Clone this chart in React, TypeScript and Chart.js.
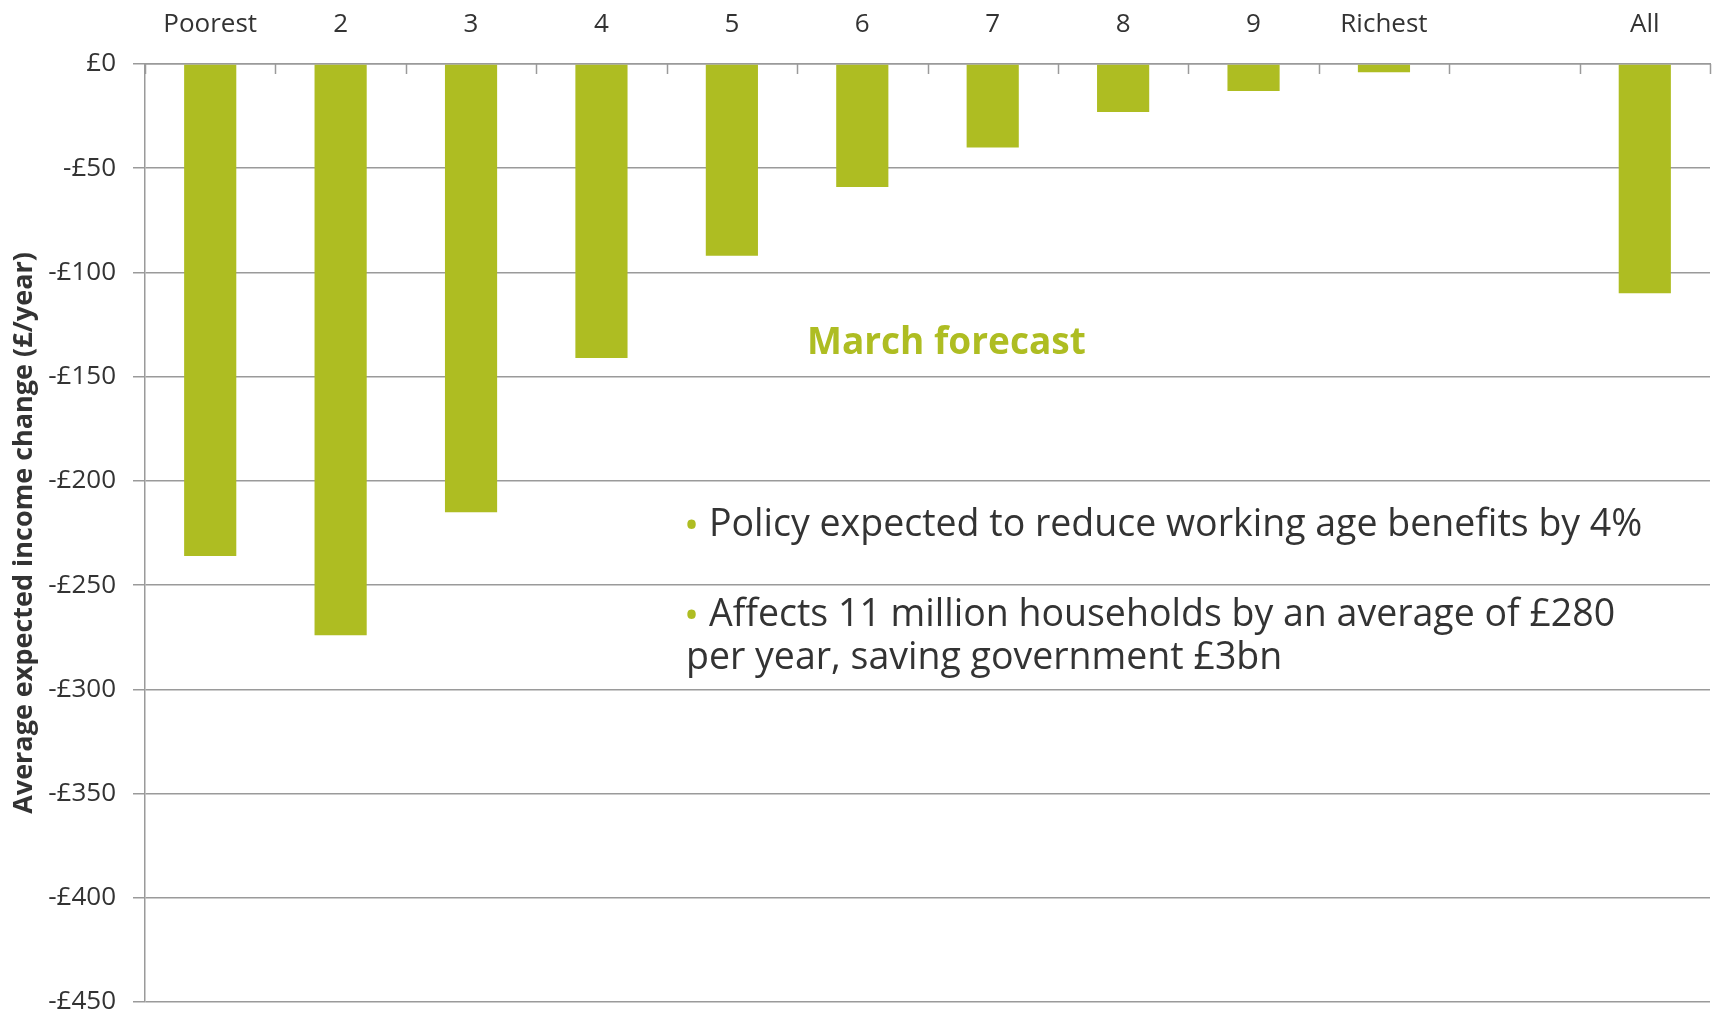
import React, { useEffect, useRef } from 'react';
import { Chart, registerables } from 'chart.js';

Chart.register(...registerables);

const categories = ['Poorest', '2', '3', '4', '5', '6', '7', '8', '9', 'Richest', '', 'All'];
const values: (number | null)[] = [-236, -274, -215, -141, -92, -59, -40, -23, -13, -4, null, -110];
const yMin = -450;
const yMax = 0;
const yStep = 50;
const yAxisTitle = 'Average expected income change (£/year)';
const headline = 'March forecast';
const bulletLines = [
  { bullet: true, text: 'Policy expected to reduce working age benefits by 4%' },
  { bullet: true, text: 'Affects 11 million households by an average of £280' },
  { bullet: false, text: 'per year, saving government £3bn' },
];

const GREEN = '#AEBD22';
const TEXT = '#333333';
const GRID = '#9a9a9a';
const FONT = "'Open Sans', 'Noto Sans', sans-serif";

export default function App() {
  const ref = useRef<HTMLCanvasElement>(null);

  useEffect(() => {
    document.body.style.margin = '0';
    document.body.style.overflow = 'hidden';

    const tickMarks = {
      id: 'tickMarks',
      afterDraw(chart: any) {
        const xs = chart.scales.x;
        const ctx = chart.ctx;
        const n = categories.length;
        const top = chart.chartArea.top;
        ctx.save();
        ctx.strokeStyle = GRID;
        ctx.lineWidth = 1.5;
        for (let i = 0; i <= n; i++) {
          const px = Math.round(xs.left + (i * xs.width) / n) + 0.5;
          ctx.beginPath();
          ctx.moveTo(px, top);
          ctx.lineTo(px, top + 10);
          ctx.stroke();
        }
        ctx.restore();
      },
    };

    const notes = {
      id: 'notes',
      afterDraw(chart: any) {
        const ctx = chart.ctx;
        ctx.save();
        ctx.textBaseline = 'middle';
        ctx.textAlign = 'left';
        ctx.font = `bold 37px ${FONT}`;
        ctx.fillStyle = GREEN;
        ctx.fillText(headline, 807, 343);

        const ys = [525, 615, 658];
        bulletLines.forEach((ln, i) => {
          const x = 686;
          if (ln.bullet) {
            ctx.fillStyle = GREEN;
            ctx.font = `40px ${FONT}`;
            ctx.fillText('•', x - 2, ys[i] + 3);
            ctx.font = `37.5px ${FONT}`;
            ctx.fillStyle = TEXT;
            ctx.fillText(ln.text, 709, ys[i]);
          } else {
            ctx.font = `37.5px ${FONT}`;
            ctx.fillStyle = TEXT;
            ctx.fillText(ln.text, x, ys[i]);
          }
        });
        ctx.restore();
      },
    };

    const chart = new Chart(ref.current as HTMLCanvasElement, {
      type: 'bar',
      data: {
        labels: categories,
        datasets: [
          {
            data: values,
            backgroundColor: GREEN,
            categoryPercentage: 0.4,
            barPercentage: 1,
          },
        ],
      },
      options: {
        responsive: false,
        animation: false,
        layout: { padding: { top: 0, right: 3, bottom: 12, left: 0 } },
        plugins: { legend: { display: false }, tooltip: { enabled: false } },
        scales: {
          x: {
            position: 'top',
            grid: { display: false },
            border: { display: true, color: GRID, width: 1.5 },
            ticks: {
              color: TEXT,
              font: { family: FONT, size: 26 },
              padding: 16,
              maxRotation: 0,
              autoSkip: false,
            },
            afterFit(s: any) {
              s.height = 64;
              s.paddingLeft = 0;
              s.paddingRight = 0;
            },
          },
          y: {
            min: yMin,
            max: yMax,
            ticks: {
              stepSize: yStep,
              color: TEXT,
              font: { family: FONT, size: 26 },
              padding: 17,
              callback: (v: any) => (Number(v) === 0 ? '£0' : '-£' + Math.abs(Number(v))),
            },
            grid: { color: GRID, lineWidth: 1.5, tickLength: 12 },
            border: { display: true, color: GRID, width: 1.5 },
            title: {
              display: true,
              text: yAxisTitle,
              color: TEXT,
              font: { family: FONT, size: 27, weight: 'bold' },
              padding: { top: 8, bottom: 0 },
            },
            afterFit(s: any) {
              s.width = 145;
              s.paddingTop = 0;
              s.paddingBottom = 0;
            },
          },
        },
      },
      plugins: [tickMarks, notes],
    } as any);

    return () => chart.destroy();
  }, []);

  return (
    <div style={{ width: 1713, height: 1014, position: 'relative' }}>
      <canvas ref={ref} width={1713} height={1014} style={{ display: 'block' }} />
    </div>
  );
}
